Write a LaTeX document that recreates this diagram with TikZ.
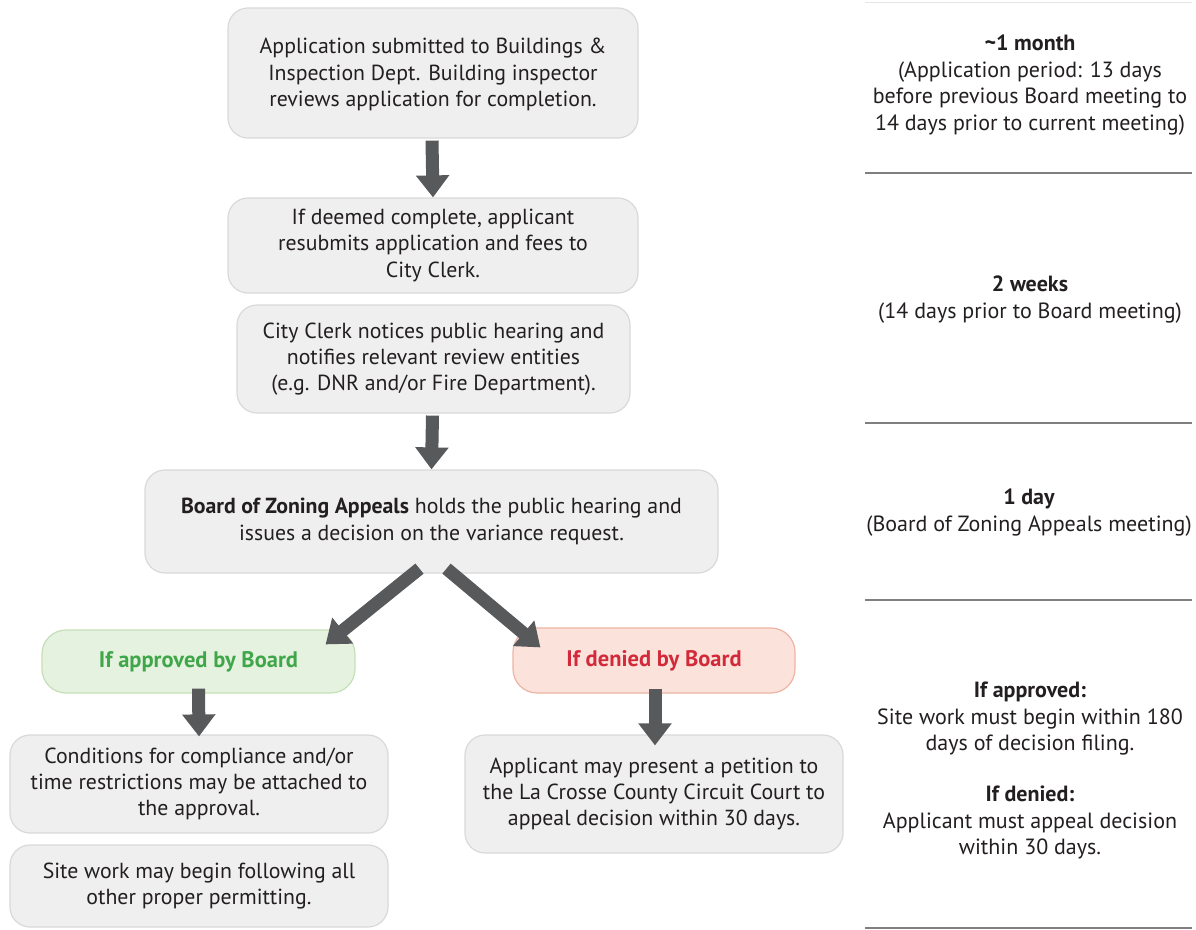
\documentclass[tikz,border=0pt]{standalone}
\usepackage{fontspec}
\setmainfont{PT Sans}
\usetikzlibrary{arrows.meta,calc}
\definecolor{boxfill}{HTML}{EFEFEF}
\definecolor{boxline}{HTML}{D9D9D9}
\definecolor{arrowgray}{HTML}{58595B}
\definecolor{txt}{HTML}{231F20}
\definecolor{gfill}{HTML}{E6F2E0}
\definecolor{gline}{HTML}{C5E0B8}
\definecolor{gtext}{HTML}{3FA649}
\definecolor{rfill}{HTML}{FBE3DB}
\definecolor{rline}{HTML}{EDB5A3}
\definecolor{rtext}{HTML}{D22A3A}
\definecolor{rule}{HTML}{7F7F7F}
\tikzset{
  stepbox/.style={draw=boxline, fill=boxfill, line width=1.2pt, rounded corners=20pt,
    align=center, text=txt, inner sep=0pt,
    font=\fontsize{21.8}{26.3}\selectfont},
  decbox/.style={line width=1.2pt, rounded corners=24pt, align=center, inner sep=0pt,
    font=\fontsize{22.5}{26.5}\selectfont\bfseries},
  bigarrow/.style={draw=arrowgray, line width=13pt,
    -{Triangle[width=32pt,length=22pt]}, shorten >=0pt},
  sidetext/.style={align=center, text=txt, inner sep=0pt,
    font=\fontsize{22}{26.5}\selectfont},
  sideline/.style={draw=rule, line width=1.1pt}
}
\begin{document}
\begin{tikzpicture}[x=1pt,y=-1pt]
\useasboundingbox (0,0) rectangle (1196,929);
\fill[white] (0,0) rectangle (1196,929);

% flow boxes
\node[stepbox, minimum width=410pt, minimum height=130pt] (b1) at (433,73)
  {\strut Application submitted to Buildings \&\\Inspection Dept. Building inspector\\reviews application for completion.};
\node[stepbox, minimum width=410pt, minimum height=95pt] (b2) at (433,245.5)
  {If deemed complete, applicant\\resubmits application and fees to\\City Clerk.};
\node[stepbox, minimum width=393pt, minimum height=108pt] (b3) at (433.5,359)
  {City Clerk notices public hearing and\\notifies relevant review entities\\(e.g. DNR and/or Fire Department).};
\node[stepbox, minimum width=573pt, minimum height=103pt] (b4) at (431.5,521.5)
  {\textbf{Board of Zoning Appeals} holds the public hearing and\\issues a decision on the variance request.};
\node[decbox, draw=gline, fill=gfill, text=gtext, minimum width=313pt, minimum height=63pt] (ga) at (198.5,661.5)
  {If approved by Board};
\node[decbox, draw=rline, fill=rfill, text=rtext, minimum width=282pt, minimum height=65pt] (rd) at (654,660.5)
  {If denied by Board};
\node[stepbox, minimum width=378pt, minimum height=98pt] (b5) at (199,784)
  {Conditions for compliance and/or\\time restrictions may be attached to\\the approval.};
\node[stepbox, minimum width=378pt, minimum height=82pt] (b6) at (199,886)
  {Site work may begin following all\\other proper permitting.};
\node[stepbox, minimum width=378pt, minimum height=118pt] (b7) at (654,794)
  {Applicant may present a petition to\\the La Crosse County Circuit Court to\\appeal decision within 30 days.};

% arrows
\coordinate (b4l) at ($(b4.south)+(-12,-5)$);
\coordinate (b4r) at ($(b4.south)+(15,-5)$);
\coordinate (gtip) at ($(ga.north east)+(-30,15)$);
\coordinate (rtip) at ($(rd.north west)+(28,20)$);
\draw[bigarrow] ($(b1.south)+(-1,2)$) -- (b2.north);
\draw[bigarrow] ($(b3.south)+(-1,2)$) -- (b4.north);
\draw[bigarrow] (b4l) -- (gtip);
\draw[bigarrow] (b4r) -- (rtip);
\draw[bigarrow] ($(ga.south)+(0,-5)$) -- ($(b5.north)+(0,2)$);
\draw[bigarrow] ($(rd.south)+(1,-5)$) -- ($(b7.north)+(1,11)$);

% right column
\draw[draw=rule!20, line width=0.8pt] (865,2) -- (1192,2);
\draw[sideline] (865,173) -- (1192,173);
\draw[sideline] (865,423) -- (1192,423);
\draw[sideline] (865,600) -- (1192,600);
\draw[sideline] (865,928) -- (1192,928);

\node[sidetext, anchor=north] (t1) at (1030,35)
  {\textbf{\textasciitilde 1 month}\\(Application period: 13 days\\before previous Board meeting to\\14 days prior to current meeting)};
\node[sidetext, anchor=north] (t2) at (1030,276)
  {\textbf{2 weeks}\\(14 days prior to Board meeting)};
\node[sidetext, anchor=north] (t3) at (1029,489)
  {\textbf{1 day}\\(Board of Zoning Appeals meeting)};
\node[sidetext, anchor=north] (t4) at (1030,682)
  {\textbf{If approved:}\\Site work must begin within 180\\days of decision filing.};
\node[sidetext, anchor=north] (t5) at (1030,786)
  {\textbf{If denied:}\\Applicant must appeal decision\\within 30 days.};
\end{tikzpicture}
\end{document}
